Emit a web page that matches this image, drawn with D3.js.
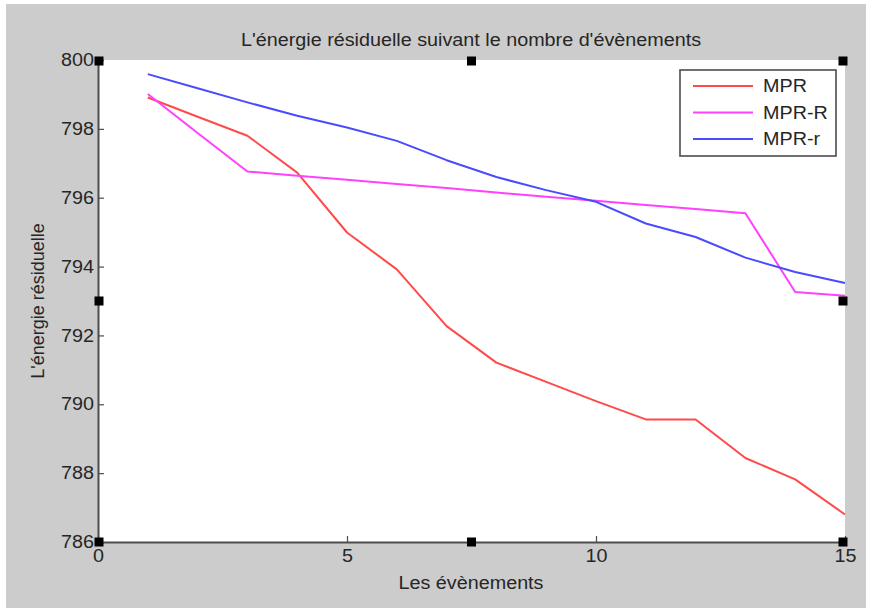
<!DOCTYPE html>
<html>
<head>
<meta charset="utf-8">
<script src="https://cdn.jsdelivr.net/npm/d3@7"></script>
<style>
  html, body { margin: 0; padding: 0; background: #ffffff; }
  svg { display: block; }
  text { font-family: "Liberation Sans", Arial, Helvetica, sans-serif; fill: #262626; }
</style>
</head>
<body>
<svg id="chart" width="873" height="612"></svg>
<script>
// ---- data ----
const events = [1, 2, 3, 4, 5, 6, 7, 8, 9, 10, 11, 12, 13, 14, 15];
const mpr   = [798.91, 798.35, 797.80, 796.73, 794.99, 793.92, 792.27, 791.21, 790.65, 790.09, 789.56, 789.56, 788.44, 787.82, 786.80];
const mprR  = [799.01, 797.88, 796.76, 796.64, 796.52, 796.40, 796.28, 796.15, 796.03, 795.91, 795.79, 795.67, 795.55, 793.26, 793.15];
const mprr  = [799.59, 799.18, 798.77, 798.38, 798.04, 797.65, 797.09, 796.60, 796.22, 795.88, 795.25, 794.86, 794.26, 793.84, 793.52];
const seriesNames = ["MPR", "MPR-R", "MPR-r"];
const xTicks = [0, 5, 10, 15];
const yTicks = [786, 788, 790, 792, 794, 796, 798, 800];
const titleText = "L'énergie résiduelle suivant le nombre d'évènements";
const xLabel = "Les évènements";
const yLabel = "L'énergie résiduelle";

const colors = ["#ff4a4a", "#ff40ff", "#4a4aff"];
const seriesValues = [mpr, mprR, mprr];

(function () {
const svg = d3.select("#chart");
const pL = 98, pR = 845, pT = 60, pB = 542;
const SX = 1.13; // horizontal stretch of text in the reference
const FS = 17.5;

// figure background
svg.append("rect").attr("x", 6).attr("y", 4).attr("width", 860).attr("height", 604).attr("fill", "#cccccc");
// axes area
svg.append("rect").attr("x", pL).attr("y", pT).attr("width", pR - pL).attr("height", pB - pT).attr("fill", "#ffffff");

const x = d3.scaleLinear().domain([0, 15]).range([pL, pR]);
const y = d3.scaleLinear().domain([786, 800]).range([pB, pT]);

// axes
const xAxis = d3.axisBottom(x).tickValues(xTicks).tickSizeInner(-6).tickSizeOuter(0).tickPadding(8).tickFormat(d3.format("d"));
const yAxis = d3.axisLeft(y).tickValues(yTicks).tickSizeInner(-6).tickSizeOuter(0).tickPadding(4).tickFormat(d3.format("d"));

const gx = svg.append("g").attr("transform", `translate(0,${pB})`).call(xAxis);
const gy = svg.append("g").attr("transform", `translate(${pL},0)`).call(yAxis);
[gx, gy].forEach(g => {
  g.select(".domain").attr("stroke", "#4d4d4d").attr("stroke-width", 2);
  g.selectAll(".tick line").attr("stroke", "#4d4d4d").attr("stroke-width", 1.2);
  g.selectAll(".tick text").attr("font-size", FS).attr("fill", "#262626")
    .attr("font-family", "Liberation Sans, Arial, sans-serif");
});
gx.selectAll(".tick text").attr("dy", "0.71em").attr("transform", `scale(${SX},1)`);
gy.selectAll(".tick text").attr("x", -4 / SX).attr("transform", `scale(${SX},1)`);

// lines
const line = d3.line().x((d, i) => x(events[i])).y(d => y(d));
seriesValues.forEach((vals, k) => {
  svg.append("path").datum(vals).attr("d", line)
    .attr("fill", "none").attr("stroke", colors[k]).attr("stroke-width", 2)
    .attr("stroke-linejoin", "round");
});

// title and labels
function stretchedText(tx, ty, str, anchor, rotate, sx) {
  const g = svg.append("g").attr("transform", `translate(${tx},${ty})` + (rotate ? ` rotate(${rotate})` : "") + ` scale(${sx},1)`);
  g.append("text").attr("text-anchor", anchor).attr("font-size", FS).text(str);
  return g;
}
stretchedText(471, 46, titleText, "middle", 0, SX);
stretchedText(471, 589, xLabel, "middle", 0, SX);
stretchedText(44, 301, yLabel, "middle", -90, 1.03);

// legend
const lg = svg.append("g");
lg.append("rect").attr("x", 680).attr("y", 70).attr("width", 156).attr("height", 86)
  .attr("fill", "#ffffff").attr("stroke", "#4d4d4d").attr("stroke-width", 1.6);
const rowY = [86, 112.5, 139];
seriesNames.forEach((name, k) => {
  lg.append("line").attr("x1", 693).attr("x2", 753).attr("y1", rowY[k]).attr("y2", rowY[k])
    .attr("stroke", colors[k]).attr("stroke-width", 2);
  const g = lg.append("g").attr("transform", `translate(763,${rowY[k]}) scale(${SX},1)`);
  g.append("text").attr("dy", "0.36em").attr("font-size", FS).text(name);
});

// selection handles (black squares)
const hx = [pL + 1, (pL + pR) / 2, pR - 2];
const hy = [pT + 1, (pT + pB) / 2, pB];
const handles = [];
hx.forEach((px, i) => hy.forEach((py, j) => { if (!(i === 1 && j === 1)) handles.push([px, py]); }));
svg.selectAll("rect.handle").data(handles).enter().append("rect")
  .attr("class", "handle")
  .attr("x", d => d[0] - 4.5).attr("y", d => d[1] - 4.5)
  .attr("width", 9).attr("height", 9).attr("fill", "#000000");
})();
</script>
</body>
</html>
